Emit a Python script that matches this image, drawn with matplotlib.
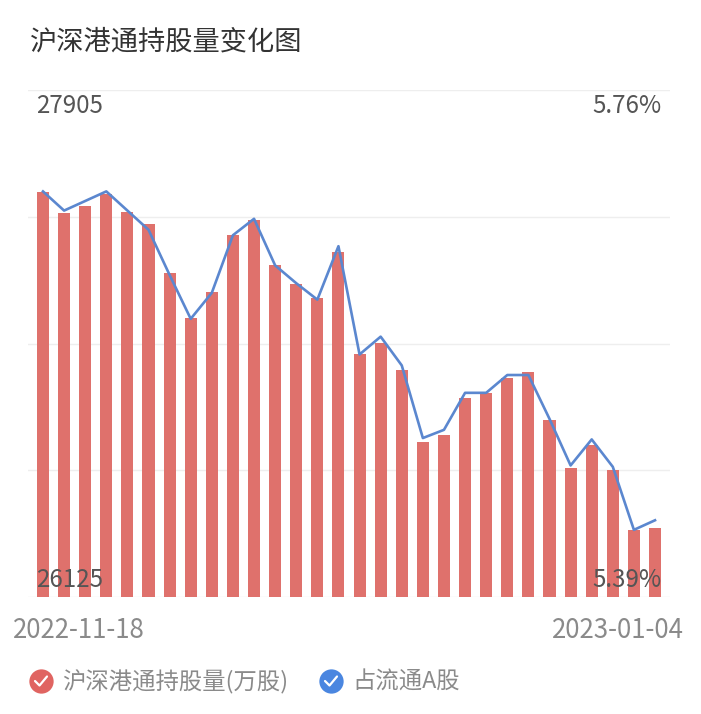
import numpy as np
import matplotlib
matplotlib.use("Agg")
import matplotlib.pyplot as plt

plt.rcParams["font.family"] = ["Noto Sans CJK SC", "DejaVu Sans"]

# ------------------------------------------------------------------
# Data (30 trading days, 2022-11-18 .. 2023-01-04)
# ------------------------------------------------------------------
HOLDINGS = [27548, 27472, 27499, 27539, 27478, 27434, 27262, 27104, 27195, 27396,
            27449, 27291, 27224, 27174, 27337, 26978, 27016, 26922, 26670, 26694,
            26823, 26840, 26893, 26916, 26746, 26579, 26659, 26571, 26360, 26366]
RATIO = [5.686, 5.672, 5.679, 5.686, 5.672, 5.658, 5.625, 5.593, 5.612, 5.654,
         5.666, 5.632, 5.619, 5.607, 5.646, 5.567, 5.580, 5.559, 5.506, 5.512,
         5.539, 5.539, 5.552, 5.552, 5.520, 5.486, 5.505, 5.485, 5.439, 5.446]
DATE_LABELS = ["2022-11-18", "2023-01-04"]
Y_LIMS = (26125, 27905)
R_LIMS = (5.39, 5.76)

TITLE = "沪深港通持股量变化图"
BAR_NAME = "沪深港通持股量(万股)"
LINE_NAME = "占流通A股"

BAR_COLOR = "#DF716C"
LINE_COLOR = "#5B87CF"
LEG_RED = "#E06461"
LEG_BLUE = "#4A86E0"

W, H = 701, 714
fig = plt.figure(figsize=(W / 100, H / 100), dpi=100)

# main plot area in pixel terms
left, right, top, bottom = 28, 670, 90, 597
ax = fig.add_axes([left / W, (H - bottom) / H, (right - left) / W, (bottom - top) / H])
x = np.arange(len(HOLDINGS))
ax.bar(x, HOLDINGS, width=0.57, color=BAR_COLOR, zorder=2)
ax.set_ylim(*Y_LIMS)
ax.set_xlim(-0.71, len(HOLDINGS) - 0.29)
ax.set_yticks(np.linspace(Y_LIMS[0], Y_LIMS[1], 5))
ax.grid(axis="y", color="#EEEEEE", lw=1.0, zorder=0)

ax2 = ax.twinx()
ax2.plot(x, RATIO, color=LINE_COLOR, lw=1.9, zorder=3)
ax2.set_ylim(*R_LIMS)
ax2.set_xlim(ax.get_xlim())

# twinx switches the left ticks back on, so hide everything afterwards
for a in (ax, ax2):
    a.tick_params(left=False, right=False, bottom=False, top=False,
                  labelleft=False, labelright=False, labelbottom=False)
    for s in a.spines.values():
        s.set_visible(False)

# overlay in pixel coords for text & legend
ov = fig.add_axes([0, 0, 1, 1], zorder=10)
ov.set_xlim(0, W)
ov.set_ylim(H, 0)
ov.axis("off")

ov.text(30, 42, TITLE, fontsize=19.6, color="#333333", ha="left", va="center")

lab_kw = dict(fontsize=17.4, color="#555555", va="center")
ov.text(36, 106, f"{Y_LIMS[1]}", ha="left", **lab_kw)
ov.text(36, 580, f"{Y_LIMS[0]}", ha="left", **lab_kw)
ov.text(662, 106, f"{R_LIMS[1]:.2f}%", ha="right", **lab_kw)
ov.text(662, 580, f"{R_LIMS[0]:.2f}%", ha="right", **lab_kw)

ov.text(13, 631, DATE_LABELS[0], fontsize=18.6, color="#8A8A8A", ha="left", va="center")
ov.text(684, 631, DATE_LABELS[-1], fontsize=18.6, color="#8A8A8A", ha="right", va="center")

# legend
for cx, col, name in [(41, LEG_RED, BAR_NAME), (331, LEG_BLUE, LINE_NAME)]:
    ov.plot(cx, 681, "o", ms=17.5, color=col, mec="none")
    ov.plot([cx - 6, cx - 1.5, cx + 6], [681, 685.5, 676.5], color="white",
            lw=1.6, solid_capstyle="round", solid_joinstyle="round")
    ov.text(cx + 21, 682, name, fontsize=16.8, color="#8A8A8A", ha="left", va="center")

fig.savefig("out.png", dpi=100)
